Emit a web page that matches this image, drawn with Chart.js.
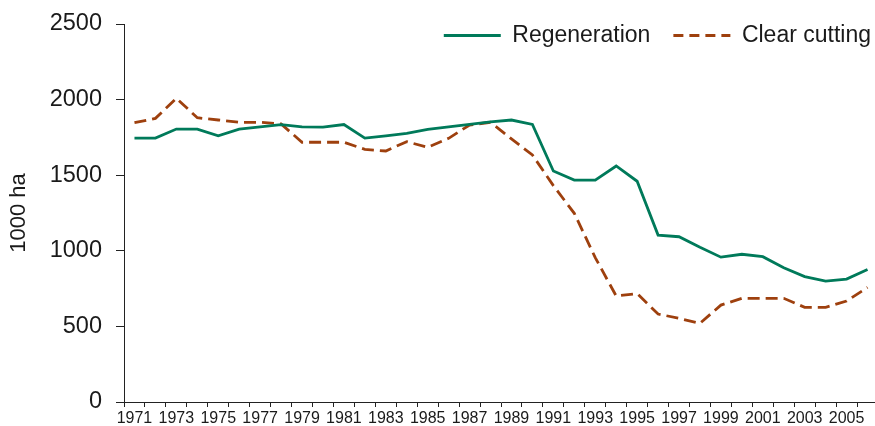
<!DOCTYPE html>
<html><head><meta charset="utf-8">
<script src="https://cdn.jsdelivr.net/npm/chart.js@4.4.1/dist/chart.umd.min.js"></script>
<style>html,body{margin:0;padding:0;overflow:hidden;background:#fff;width:875px;height:426px}canvas{display:block}</style>
</head><body>
<canvas id="c" width="878" height="426"></canvas>
<script>
const years = ['1971','1972','1973','1974','1975','1976','1977','1978','1979','1980',
  '1981','1982','1983','1984','1985','1986','1987','1988','1989','1990',
  '1991','1992','1993','1994','1995','1996','1997','1998','1999','2000',
  '2001','2002','2003','2004','2005','2006'];
const regeneration = [1745,1745,1805,1805,1760,1805,1820,1835,1820,1818,
  1835,1745,1760,1777,1803,1820,1836,1852,1865,1836,
  1528,1468,1468,1561,1460,1104,1093,1023,958,977,
  961,888,829,800,813,877];
const clearCutting = [1847,1876,2009,1880,1865,1850,1850,1839,1718,1718,
  1718,1671,1660,1722,1684,1744,1832,1850,1740,1634,
  1431,1248,955,701,717,582,553,520,641,686,
  686,686,626,626,668,758];
const yMin = 0, yMax = 2500, yStep = 500;
const seriesNames = ['Regeneration', 'Clear cutting'];
const yTitle = '1000 ha';

Chart.defaults.font.family = '"Liberation Sans", Arial, sans-serif';
Chart.defaults.color = '#1a1a1a';

// Legend overlaps the top of the plot area (as in the reference): take it out of the layout flow
const legendPlacer = {
  id: 'legendPlacer',
  beforeLayout(chart) {
    const lg = chart.legend;
    if (lg && !lg._patched) {
      const origFit = lg.fit.bind(lg);
      lg.fit = function() { origFit(); this.height = 0; };
      lg._patched = true;
    }
  },
  afterLayout(chart) {
    const lg = chart.legend;
    if (!lg) return;
    lg.top = 1;
    lg.height = 70;
    lg.bottom = 71;
    lg.left = 300;
    lg.right = 894;
    lg.width = 594;
  }
};

new Chart(document.getElementById('c'), {
  type: 'line',
  data: {
    labels: years,
    datasets: [
      { label: seriesNames[0], data: regeneration, borderColor: '#007a5a', backgroundColor: '#007a5a',
        borderWidth: 2.8, pointRadius: 0, tension: 0, fill: false },
      { label: seriesNames[1], data: clearCutting, borderColor: '#9e400e', backgroundColor: '#9e400e',
        borderWidth: 2.8, borderDash: [12, 6], pointRadius: 0, tension: 0, fill: false }
    ]
  },
  options: {
    responsive: false,
    animation: false,
    devicePixelRatio: 1,
    layout: { padding: { top: 24, left: 0, right: 0, bottom: 0 } },
    plugins: {
      tooltip: { enabled: false },
      legend: {
        position: 'top',
        align: 'end',
        labels: {
          usePointStyle: true,
          pointStyle: 'line',
          pointStyleWidth: 57,
          padding: 23,
          color: '#1a1a1a',
          font: { size: 23 },
          generateLabels(chart) {
            const items = Chart.defaults.plugins.legend.labels.generateLabels(chart);
            return items.map(it => {
              const ds = chart.data.datasets[it.datasetIndex];
              it.lineDash = ds.borderDash ? [10, 6] : [];
              it.lineWidth = 2.8;
              it.strokeStyle = ds.borderColor;
              it.fillStyle = ds.borderColor;
              it.pointStyle = 'line';
              return it;
            });
          }
        }
      }
    },
    scales: {
      x: {
        type: 'category',
        offset: true,
        grid: { offset: true, drawOnChartArea: false, drawTicks: true, tickLength: 5, color: '#222', tickColor: '#222' },
        border: { display: true, color: '#222', width: 1 },
        ticks: {
          autoSkip: false, maxRotation: 0, minRotation: 0, padding: 2,
          font: { size: 16 }, color: '#1a1a1a',
          callback: function(val, idx) { return idx % 2 === 0 ? this.getLabelForValue(val) : ''; }
        },
        afterFit: s => { s.height = 24; }
      },
      y: {
        min: yMin, max: yMax,
        grid: { drawOnChartArea: false, drawTicks: true, tickLength: 8, color: '#222', tickColor: '#222' },
        border: { display: true, color: '#222', width: 1 },
        ticks: { stepSize: yStep, padding: 14, font: { size: 23.5 }, color: '#1a1a1a',
          callback: v => String(v) },
        title: { display: true, text: yTitle, font: { size: 22 }, color: '#1a1a1a', padding: { top: 6, bottom: 0 } },
        afterFit: s => { s.width = 124; s.paddingTop = 14; s.paddingBottom = 14; }
      }
    }
  },
  plugins: [legendPlacer]
});
</script>
</body></html>
